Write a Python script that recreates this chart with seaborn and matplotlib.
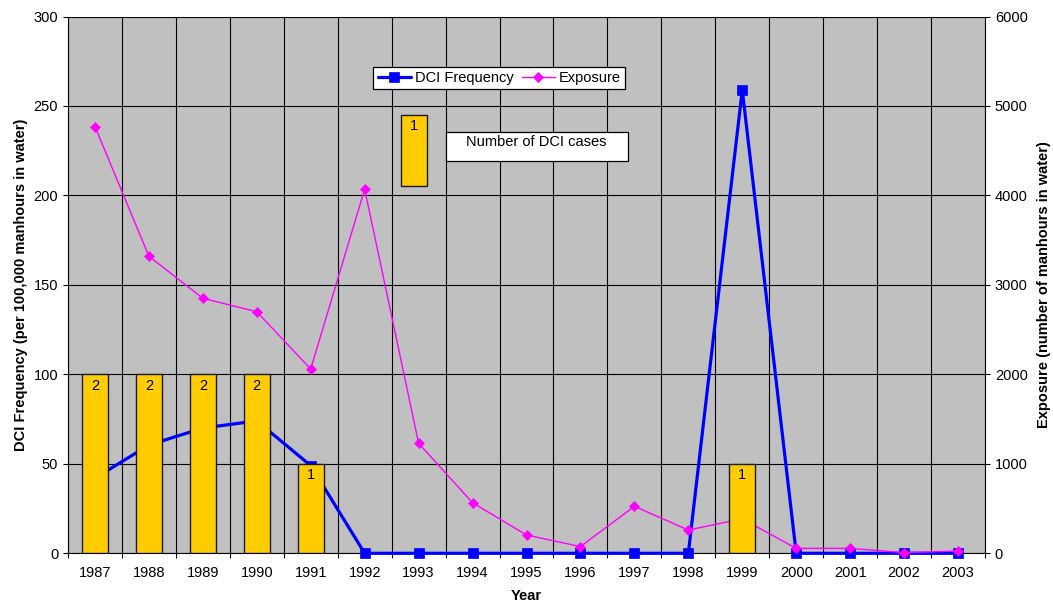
import numpy as np
import pandas as pd
import matplotlib
matplotlib.use("Agg")
import matplotlib.pyplot as plt
from matplotlib.ticker import FixedLocator
from matplotlib.patches import Rectangle
import seaborn as sns

# ---- data -------------------------------------------------------------
years = [str(y) for y in range(1987, 2004)]
dci_frequency = [42, 60.5, 70, 74, 49, 0, 0, 0, 0, 0, 0, 0, 259, 0, 0, 0, 0]
exposure = [4770, 3320, 2850, 2700, 2060, 4070, 1230, 565, 205, 75, 525, 260,
            386, 55, 55, 8, 25]
dci_cases = [2, 2, 2, 2, 1, 0, 0, 0, 0, 0, 0, 0, 1, 0, 0, 0, 0]
case_scale = 50          # one DCI case is drawn as 50 units on the left axis
freq_ticks = list(range(0, 301, 50))
exposure_ticks = list(range(0, 6001, 1000))

# ---- style ------------------------------------------------------------
BG = "#C0C0C0"
BLUE = "#0000FF"
MAGENTA = "#FF00FF"
YELLOW = "#FFCC00"
FS = 10.5

sns.set_style("ticks", rc={
    "axes.edgecolor": "black",
    "xtick.color": "black",
    "ytick.color": "black",
    "text.color": "black",
    "axes.labelcolor": "black",
})
plt.rcParams["font.family"] = ["Liberation Sans", "DejaVu Sans"]

n = len(years)
df = pd.DataFrame({
    "pos": np.arange(n),
    "Year": years,
    "DCI Frequency": dci_frequency,
    "Exposure": exposure,
    "Cases": dci_cases,
})
df["Bar height"] = df["Cases"] * case_scale
bars_df = df[df["Cases"] > 0]

fig = plt.figure(figsize=(10.53, 6.06), dpi=100)
fig.patch.set_facecolor("white")
ax = fig.add_axes([68 / 1053, 52.7 / 606, 917 / 1053, 536.8 / 606])
ax.set_facecolor(BG)

# DCI frequency (left axis)
sns.lineplot(data=df, x="pos", y="DCI Frequency", ax=ax, color=BLUE,
             linewidth=2.3, marker="s", markersize=7.5,
             markeredgecolor=BLUE, markeredgewidth=0.5, zorder=3,
             clip_on=False)
dci_line = ax.get_lines()[-1]

# exposure (right axis)
ax2 = ax.twinx()
sns.lineplot(data=df, x="pos", y="Exposure", ax=ax2, color=MAGENTA,
             linewidth=1.0, marker="D", markersize=4.8,
             markeredgecolor=MAGENTA, markeredgewidth=0.5, zorder=3,
             clip_on=False)
exp_line = ax2.get_lines()[-1]

# DCI case bars, drawn above both lines
ax3 = ax.twinx()
sns.barplot(data=bars_df, x="pos", y="Bar height", ax=ax3, native_scale=True,
            width=0.48, color=YELLOW, saturation=1, edgecolor="#1a1a1a",
            linewidth=1.0, errorbar=None, zorder=4)
for _, row in bars_df.iterrows():
    ax3.annotate(str(row["Cases"]), (row["pos"], row["Bar height"]),
                 xytext=(0, -3), textcoords="offset points",
                 ha="center", va="top", fontsize=FS, zorder=5)

# key for the bars: a one-case swatch and its caption
ax3.add_patch(Rectangle((6 - 0.32, 205), 0.48, case_scale * 0.8,
                        facecolor=YELLOW, edgecolor="#1a1a1a", linewidth=1.0,
                        zorder=4))
ax3.annotate("1", (6 - 0.08, 245), xytext=(0, -3), textcoords="offset points",
             ha="center", va="top", fontsize=FS, zorder=5)
ax3.add_patch(Rectangle((6.5, 219), 3.38, 16.2, facecolor="white",
                        edgecolor="black", linewidth=0.9, zorder=4))
ax3.text(8.19, 229.6, "Number of DCI cases", ha="center", va="center",
         fontsize=FS, zorder=5)

# ---- axes -------------------------------------------------------------
for a in (ax, ax2, ax3):
    a.set_xlim(-0.5, n - 0.5)
ax.set_ylim(0, 300)
ax3.set_ylim(0, 300)
ax2.set_ylim(0, 6000)

ax.xaxis.set_major_locator(FixedLocator(range(n)))
ax.set_xticklabels(years)
ax.xaxis.set_minor_locator(FixedLocator(np.arange(-0.5, n, 1.0)))
ax.tick_params(axis="x", which="major", length=0, pad=9.5, labelsize=FS)
ax.tick_params(axis="x", which="minor", length=3.6, width=0.8,
               direction="out", color="black")

ax.yaxis.set_major_locator(FixedLocator(freq_ticks))
ax.tick_params(axis="y", length=3.6, width=0.8, direction="out",
               pad=3.5, labelsize=FS)
ax2.yaxis.set_major_locator(FixedLocator(exposure_ticks))
ax2.tick_params(axis="y", length=3.6, width=0.8, direction="out",
                pad=3.5, labelsize=FS)

ax.set_axisbelow(True)
ax.grid(which="major", axis="y", color="black", linewidth=0.8)
ax.grid(which="minor", axis="x", color="black", linewidth=0.8)
ax.grid(which="major", axis="x", visible=False)

ax.set_xlabel("Year", fontsize=FS, fontweight="bold", labelpad=6)
ax.set_ylabel("DCI Frequency (per 100,000 manhours in water)", fontsize=FS,
              fontweight="bold", labelpad=4)
ax2.set_ylabel("Exposure (number of manhours in water)", fontsize=FS,
               fontweight="bold", labelpad=7)
ax3.set_ylabel("")
ax3.set_xlabel("")
ax3.yaxis.set_visible(False)

for s in ax.spines.values():
    s.set_color("black")
    s.set_linewidth(0.8)
ax.spines["top"].set_visible(False)
ax.spines["right"].set_visible(False)
for side in ("left", "top", "bottom"):
    ax2.spines[side].set_visible(False)
ax2.spines["right"].set_color("black")
ax2.spines["right"].set_linewidth(0.8)
for s in ax3.spines.values():
    s.set_visible(False)

leg = ax3.legend([dci_line, exp_line], ["DCI Frequency", "Exposure"],
                 ncol=2, loc="upper left",
                 bbox_to_anchor=(373.3 / 1053, 1 - 66.7 / 606),
                 bbox_transform=fig.transFigure, borderaxespad=0,
                 frameon=True, fancybox=False, framealpha=1,
                 edgecolor="black", fontsize=FS, borderpad=0.3,
                 handlelength=2.3, handletextpad=0.25, columnspacing=0.55)
leg.get_frame().set_linewidth(0.9)
leg.set_zorder(6)

fig.savefig("out.png", dpi=100, facecolor="white")
